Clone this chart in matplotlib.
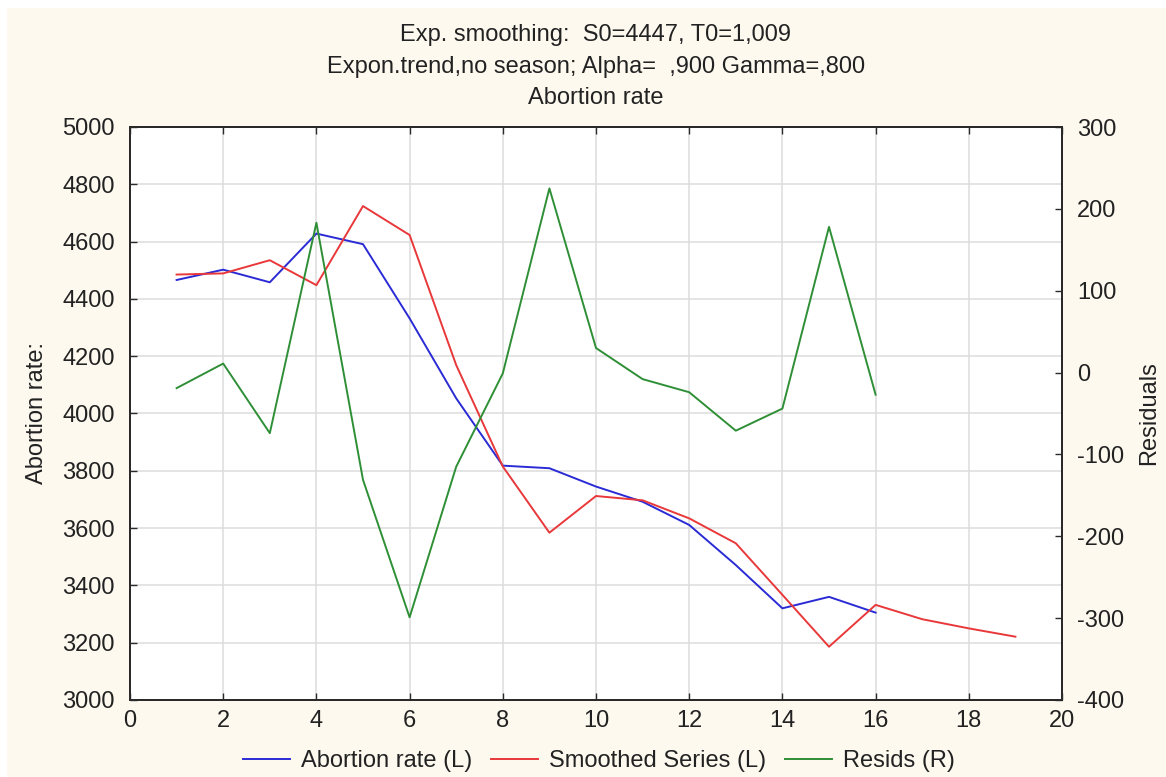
import matplotlib
matplotlib.use("Agg")
import matplotlib.pyplot as plt
from matplotlib.patches import Rectangle

plt.rcParams['font.family'] = ['Liberation Sans', 'DejaVu Sans']
plt.rcParams['axes.unicode_minus'] = False

# observed series (periods 1..16) and smoothed series incl. forecast (1..19)
periods = list(range(1, 17))
abortion_rate = [4466, 4502, 4458, 4628, 4591, 4332, 4053, 3818, 3809, 3745,
                 3692, 3611, 3471, 3320, 3360, 3305]

smooth_periods = list(range(1, 20))
smoothed = [4485, 4489, 4535, 4448, 4724, 4623, 4169, 3815, 3584, 3712,
            3697, 3634, 3547, 3367, 3186, 3332, 3282, 3250, 3221]

resids = [-19, 11, -74, 183, -131, -299, -115, -1, 225, 30,
          -8, -24, -71, -44, 178, -27]

x_ticks = list(range(0, 21, 2))
left_ticks = list(range(3000, 5001, 200))
right_ticks = list(range(-400, 301, 100))

title_lines = ["Exp. smoothing:  S0=4447, T0=1,009",
               "Expon.trend,no season; Alpha=  ,900 Gamma=,800",
               "Abortion rate"]

fs = 17
cream = '#fdf9ef'
fig = plt.figure(figsize=(11.66, 7.77), dpi=100, facecolor='white')
fig.patches.append(Rectangle((7 / 1166, 0), 1, 1 - 8 / 777, transform=fig.transFigure,
                             facecolor=cream, edgecolor='none', zorder=-10))

ax = fig.add_axes([130 / 1166, 1 - 700 / 777, 932 / 1166, 573 / 777])
ax.set_facecolor('white')
ax2 = ax.twinx()

l1, = ax.plot(periods, abortion_rate, color='#2b2bd6', lw=1.4, label='Abortion rate (L)')
l2, = ax.plot(smooth_periods, smoothed, color='#e8383a', lw=1.4, label='Smoothed Series (L)')
l3, = ax2.plot(periods, resids, color='#2f8f36', lw=1.4, label='Resids (R)')

ax.set_xlim(0, 20)
ax.set_ylim(3000, 5000)
ax2.set_ylim(-400, 300)
ax.set_xticks(x_ticks)
ax.set_yticks(left_ticks)
ax2.set_yticks(right_ticks)

ax.grid(True, color='#dcdcdc', lw=1.1)
ax.set_axisbelow(True)

for a in (ax, ax2):
    for s in a.spines.values():
        s.set_color('#2a2a2a')
        s.set_linewidth(1.4)

ax.tick_params(axis='both', direction='in', length=5, width=1, colors='#2a2a2a',
               labelsize=fs, labelcolor='#222222', top=True, pad=7)
ax.tick_params(axis='y', pad=11)
ax2.tick_params(axis='y', direction='in', length=5, width=1, colors='#2a2a2a',
                labelsize=fs, labelcolor='#222222', pad=11)

ax.set_ylabel('Abortion rate:', fontsize=fs, color='#222222', labelpad=10)
ax2.set_ylabel('Residuals', fontsize=fs, color='#222222', labelpad=10)

for i, line in enumerate(title_lines):
    fig.text(596 / 1166, 1 - (35 + i * 31.5) / 777, line, ha='center', va='center',
             fontsize=fs, color='#222222')

fig.legend(handles=[l1, l2, l3], loc='center', bbox_to_anchor=(599 / 1166, 1 - 761 / 777),
           ncol=3, frameon=False, fontsize=fs, handlelength=2.0, handletextpad=0.45,
           columnspacing=0.8, labelcolor='#222222')

fig.savefig('out.png', dpi=100, facecolor=fig.get_facecolor())
